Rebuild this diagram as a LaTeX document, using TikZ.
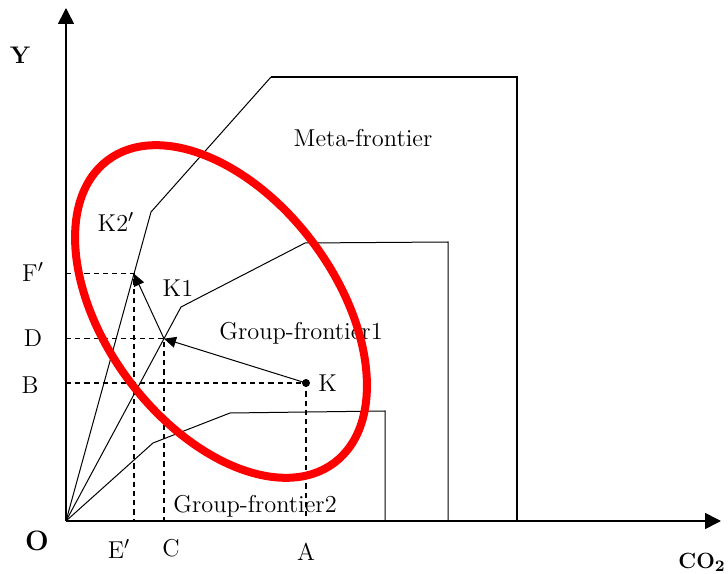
\documentclass[tikz,border=0pt]{standalone}
\usepackage{tikz}
\usetikzlibrary{arrows.meta, positioning, calc}
\definecolor{ringred}{RGB}{255,0,0}

\tikzset{
  axis/.style={line width=0.8pt, -{Triangle[length=8pt,width=8pt]}},
  frontier/.style={line width=0.5pt},
  metabox/.style={line width=0.9pt},
  guide/.style={dash pattern=on 2.6pt off 2pt, line width=0.6pt},
  moveto/.style={line width=0.5pt, -{Triangle[length=6pt,width=5.5pt]}},
  ring/.style={ringred, line width=4pt},
  lbl/.style={font=\fontsize{12.2}{14}\selectfont, inner sep=1pt},
  axlbl/.style={font=\fontsize{12}{14}\selectfont\bfseries, inner sep=1pt},
}

\begin{document}
\begin{tikzpicture}[x=0.5pt, y=0.5pt]
  \useasboundingbox (-66,-52) rectangle (662,521);
  % Axes
  \coordinate (O) at (0,0);
  \coordinate (ytip) at (0,513);
  \coordinate (xtip) at (655,0);
  \draw[axis] (O) -- (ytip);
  \draw[axis] (O) -- (xtip);
  \node[axlbl] (ylab) at (-46,466) {Y};
  \node[axlbl, font=\fontsize{14}{16}\selectfont\bfseries] (olab) at (-29,-20) {O};
  \node[axlbl, font=\fontsize{11}{13}\selectfont\bfseries] (xlab) at (636,-41) {CO$_\mathbf{2}$};

  % Meta-frontier
  \coordinate (m1) at (85,309);
  \coordinate (m2) at (205,444);
  \coordinate (m3) at (451,444);
  \coordinate (m4) at (451,0);
  \draw[frontier] (O) -- (m1) -- (m2);
  \draw[metabox] (m2) -- (m3) -- (m4);
  \node[lbl] (metalab) at (297,383) {Meta-frontier};

  % Group-frontier1
  \coordinate (g1) at (115,214);
  \coordinate (g2) at (239,278);
  \coordinate (g3) at (382,279);
  \coordinate (g4) at (382,0);
  \draw[frontier] (O) -- (g1) -- (g2) -- (g3) -- (g4);
  \node[lbl] (g1lab) at (235,188) {Group-frontier1};

  % Group-frontier2
  \coordinate (h1) at (87,78);
  \coordinate (h2) at (164,108);
  \coordinate (h3) at (319,110);
  \coordinate (h4) at (319,0);
  \draw[frontier] (O) -- (h1) -- (h2) -- (h3) -- (h4);
  \node[lbl] (g2lab) at (189,15) {Group-frontier2};

  % Projections
  \coordinate (K) at (240,138);
  \coordinate (D) at ($(O)!0.852!(g1)$);
  \coordinate (F) at ($(O)!0.8!(m1)$);
  \coordinate (Bax) at (0,138);
  \coordinate (Aax) at (240,0);
  \coordinate (Dax) at (O |- D);
  \coordinate (Cax) at (D |- O);
  \coordinate (Fax) at (O |- F);
  \coordinate (Eax) at (F |- O);
  \draw[guide] (Bax) -- (K) -- (Aax);
  \draw[guide] (Dax) -- (D) -- (Cax);
  \draw[guide] (Fax) -- (F) -- (Eax);
  \fill (K) circle (4);
  \draw[moveto] (K) -- (D);
  \draw[moveto] (D) -- (F);

  \node[lbl, right=5pt of K] (klab) {K};
  \node[lbl] (k1lab) at (112,233) {K1};
  \node[lbl] (k2lab) at (50,299) {K2$'$};
  \node[lbl] (flab) at (-33,249) {F$'$};
  \node[lbl] (dlab) at (-33,183) {D};
  \node[lbl] (blab) at (-36,136) {B};
  \node[lbl] (elab) at (53,-28) {E$'$};
  \node[lbl] (clab) at (105,-27) {C};
  \node[lbl] (alab) at (240,-31) {A};

  % Red ring
  \draw[ring, rotate around={-53.2:(155,209.5)}] (155,209.5) ellipse [x radius=189, y radius=115];
\end{tikzpicture}
\end{document}
